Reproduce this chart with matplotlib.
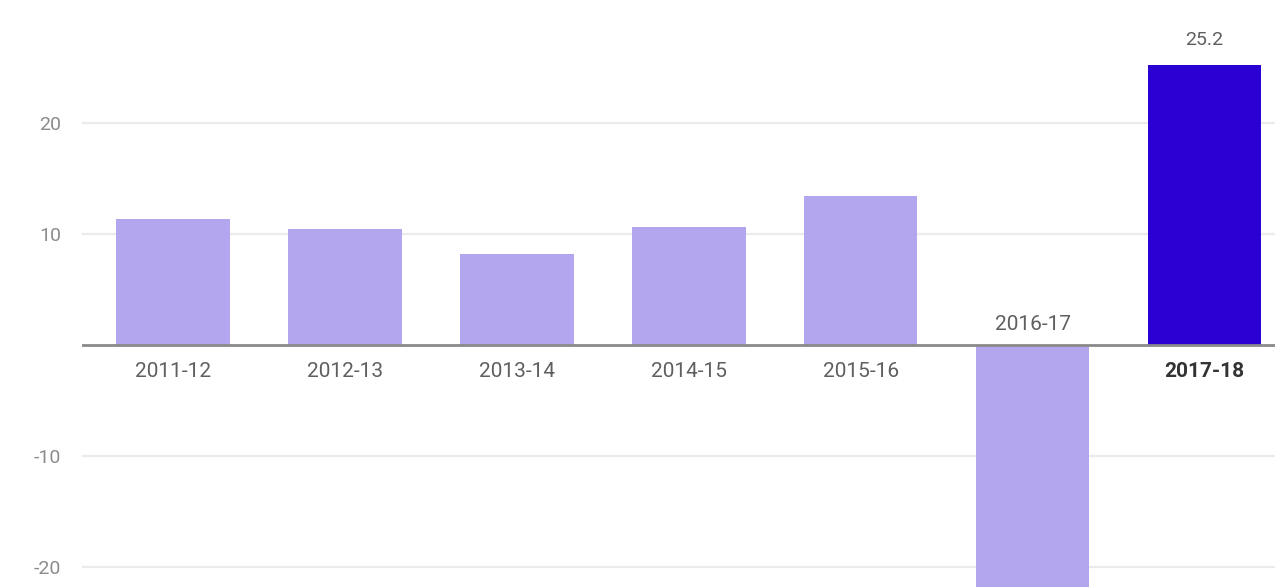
import numpy as np
import matplotlib
matplotlib.use("Agg")
import matplotlib.pyplot as plt

plt.rcParams['font.family'] = ['Roboto', 'DejaVu Sans']

# yearly change, per cent
years = ["2011-12", "2012-13", "2013-14", "2014-15", "2015-16", "2016-17", "2017-18"]
values = [11.4, 10.5, 8.2, 10.6, 13.4, -26.0, 25.2]
highlight = "2017-18"
y_ticks = [-20, -10, 10, 20]

light = "#b3a6ef"
dark = "#2b00d3"


def main():
    fig = plt.figure(figsize=(12.75, 5.87), dpi=100)
    ax = fig.add_axes([82 / 1275, 0, 1 - 82 / 1275, 1])

    x = np.arange(len(years))
    colors = [dark if y == highlight else light for y in years]
    ax.bar(x, values, width=0.66, color=colors, zorder=2)

    ax.set_xlim(-0.53, len(years) - 0.59)
    ax.set_ylim(-21.8, 31.1)

    # light grid, darker zero line
    for t in y_ticks:
        ax.axhline(t, color="#ebebeb", lw=1.6, zorder=1)
    ax.axhline(0, color="#8a8a8a", lw=2.0, zorder=3)

    ax.set_yticks(y_ticks)
    ax.set_yticklabels([str(t) for t in y_ticks])
    ax.tick_params(axis="y", length=0, pad=15, labelsize=14, labelcolor="#8c8c8c")
    ax.set_xticks([])
    for s in ax.spines.values():
        s.set_visible(False)

    # category names sit on the opposite side of the bar
    for xi, (name, v) in enumerate(zip(years, values)):
        bold = name == highlight
        if v >= 0:
            ax.annotate(name, (xi, 0), xytext=(0, -12), textcoords="offset points",
                        ha="center", va="top", fontsize=15,
                        color="#333333" if bold else "#5f5f5f",
                        fontweight="bold" if bold else "normal")
        else:
            ax.annotate(name, (xi, 0), xytext=(0, 8), textcoords="offset points",
                        ha="center", va="bottom", fontsize=15, color="#5f5f5f")
        if bold:
            ax.annotate(f"{v:.1f}", (xi, v), xytext=(0, 12), textcoords="offset points",
                        ha="center", va="bottom", fontsize=14, color="#5f5f5f")

    fig.savefig("out.png", dpi=100)


if __name__ == "__main__":
    main()
